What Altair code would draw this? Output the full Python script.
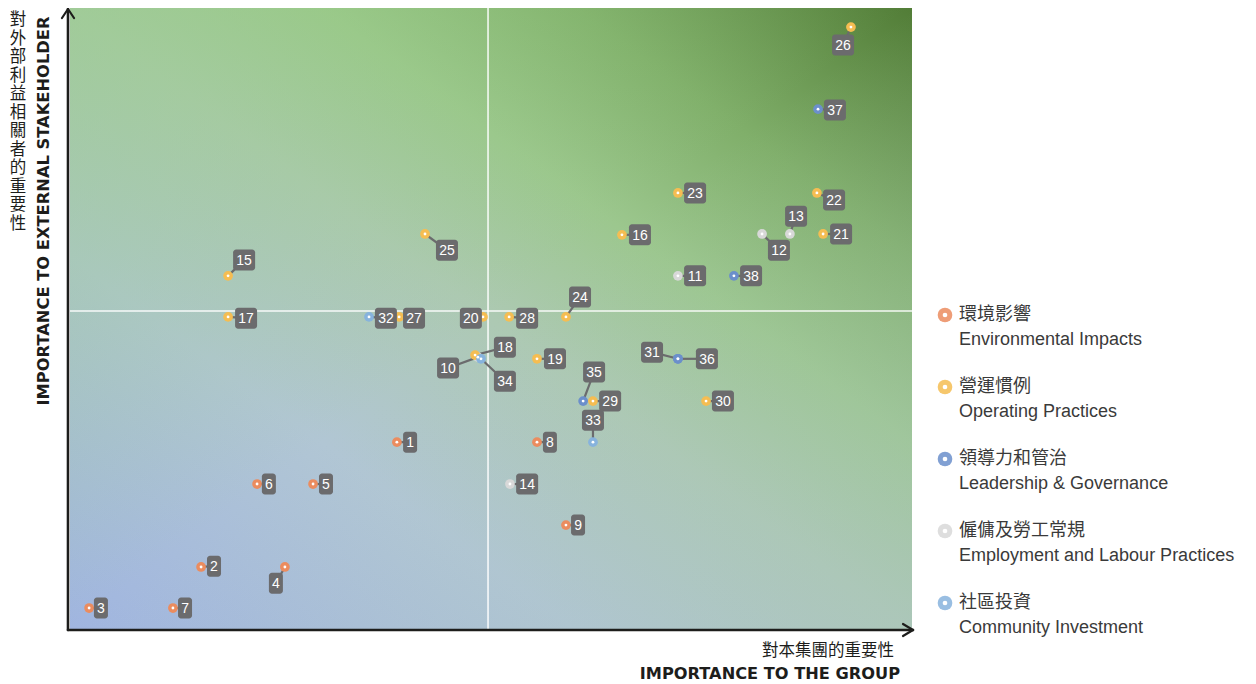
import altair as alt
import pandas as pd

# ---------------- data ----------------
ids = list(range(1, 39))
categories = (["env"] * 9 + ["emp"] * 5 + ["op"] * 16 +
              ["lead", "comm", "comm", "comm", "lead", "lead", "lead", "lead"])
x_vals = [11.69, 4.73, 0.75, 7.71, 8.71, 6.72, 3.73, 16.67, 17.70, 14.57,
          21.68, 24.67, 25.66, 15.71, 5.69, 19.69, 5.69, 14.47, 16.67, 14.75,
          26.84, 26.62, 21.68, 17.70, 12.69, 27.83, 11.77, 15.68, 18.66, 22.68,
          21.68, 10.70, 18.66, 14.68, 18.31, 21.68, 26.66, 23.67]
y_vals = [4.53, 1.52, 0.53, 1.52, 3.52, 3.52, 0.53, 4.53, 2.53, 6.58,
          8.54, 9.55, 9.55, 3.52, 8.54, 9.53, 7.55, 6.63, 6.54, 7.55,
          9.55, 10.54, 10.54, 7.55, 9.55, 14.54, 7.55, 7.55, 5.52, 5.52,
          6.54, 7.55, 4.53, 6.54, 5.52, 6.54, 12.56, 8.54]
label_x = [12.16, 5.19, 1.17, 7.39, 9.17, 7.14, 4.16, 17.13, 18.13, 13.51,
           22.29, 25.27, 25.88, 16.32, 6.26, 20.33, 6.33, 15.53, 17.31, 14.32,
           27.48, 27.23, 22.29, 18.20, 13.47, 27.55, 12.30, 16.32, 19.27, 23.28,
           20.76, 11.30, 18.66, 15.53, 18.70, 22.71, 27.26, 24.28]
label_y = [4.53, 1.54, 0.53, 1.13, 3.52, 3.52, 0.53, 4.53, 2.53, 6.32,
           8.54, 9.16, 9.98, 3.52, 8.92, 9.53, 7.52, 6.82, 6.54, 7.52,
           9.55, 10.37, 10.54, 8.03, 9.16, 14.11, 7.52, 7.52, 5.52, 5.52,
           6.70, 7.52, 5.06, 6.00, 6.22, 6.54, 12.54, 8.54]

cat_keys = ["env", "op", "lead", "emp", "comm"]
cat_zh = ["環境影響", "營運慣例", "領導力和管治", "僱傭及勞工常規", "社區投資"]
cat_en = ["Environmental Impacts", "Operating Practices", "Leadership & Governance",
          "Employment and Labour Practices", "Community Investment"]
cat_colors = ["#eb8c5f", "#f5bd52", "#6b8fcb", "#d8d8d8", "#87b3dd"]

X_MAX, Y_MAX = 30, 15
X_MID, Y_MID = 14.93, 7.69

# ---------------- layout ----------------
W, H = 844, 622
PXX = W / X_MAX
PXY = H / Y_MAX
BOX_GREY = "#6b6b6d"
NUM_FONT = "Liberation Sans"
CJK_FONT = "Noto Sans CJK TC"

df = pd.DataFrame({"id": ids, "cat": categories, "x": x_vals, "y": y_vals,
                   "lx": label_x, "ly": label_y})
df["label"] = df["id"].astype(str)
half_w = df["label"].str.len().map({1: 7.0, 2: 11.0}) / PXX
half_h = 10.5 / PXY
df["bx1"] = df["lx"] - half_w
df["bx2"] = df["lx"] + half_w
df["by1"] = df["ly"] - half_h
df["by2"] = df["ly"] + half_h

xs = alt.Scale(domain=[0, X_MAX], nice=False, zero=False)
ys = alt.Scale(domain=[0, Y_MAX], nice=False, zero=False)
cs = alt.Scale(domain=cat_keys, range=cat_colors)

one = pd.DataFrame({"k": [0]})

# background: diagonal gradient (bottom-left -> top-right) plus a cross tint
bg1 = alt.Chart(one).mark_rect(
    color=alt.Gradient(
        gradient="linear", x1=0, y1=1, x2=1, y2=0,
        stops=[alt.GradientStop(offset=0, color="#a0b5e0"),
               alt.GradientStop(offset=0.3, color="#b1c6d4"),
               alt.GradientStop(offset=0.5, color="#adc9b3"),
               alt.GradientStop(offset=0.65, color="#9cc78e"),
               alt.GradientStop(offset=0.8, color="#80af6a"),
               alt.GradientStop(offset=1, color="#527d37")])
).encode(x=alt.value(2), x2=alt.value(W), y=alt.value(0), y2=alt.value(H - 1))
bg2 = alt.Chart(one).mark_rect(
    color=alt.Gradient(
        gradient="linear", x1=0, y1=0, x2=1, y2=1,
        stops=[alt.GradientStop(offset=0, color="rgba(150,205,130,0.55)"),
               alt.GradientStop(offset=0.5, color="rgba(150,205,130,0)"),
               alt.GradientStop(offset=0.5, color="rgba(170,195,195,0)"),
               alt.GradientStop(offset=1, color="rgba(170,195,195,0.4)")])
).encode(x=alt.value(2), x2=alt.value(W), y=alt.value(0), y2=alt.value(H - 1))

# quadrant lines
quad = pd.DataFrame({"xm": [X_MID], "ym": [Y_MID]})
vline = alt.Chart(quad).mark_rule(color="white", strokeWidth=1.5, opacity=0.95).encode(
    x=alt.X("xm:Q", scale=xs, axis=None), y=alt.value(0), y2=alt.value(H))
hline = alt.Chart(quad).mark_rule(color="white", strokeWidth=1.5, opacity=0.9).encode(
    y=alt.Y("ym:Q", scale=ys, axis=None), x=alt.value(2), x2=alt.value(W + 3))

X = alt.X("x:Q", scale=xs, axis=None)
Y = alt.Y("y:Q", scale=ys, axis=None)
base = alt.Chart(df)
callout = base.mark_rule(color=BOX_GREY, strokeWidth=2.2).encode(
    x=X, y=Y, x2="lx:Q", y2="ly:Q")
markers = base.mark_circle(size=95, opacity=1).encode(
    x=X, y=Y, color=alt.Color("cat:N", scale=cs, legend=None))
dots = base.mark_circle(size=8, color="white", opacity=1).encode(x=X, y=Y)
boxes = base.mark_rect(color=BOX_GREY, cornerRadius=3).encode(
    x=alt.X("bx1:Q", scale=xs, axis=None), x2="bx2:Q",
    y=alt.Y("by1:Q", scale=ys, axis=None), y2="by2:Q")
nums = base.mark_text(color="white", fontSize=14, font=NUM_FONT, align="center",
                      baseline="middle", dy=1).encode(
    x=alt.X("lx:Q", scale=xs, axis=None), y=alt.Y("ly:Q", scale=ys, axis=None),
    text="label:N")

# axes with arrows
AX = "#1d1d1b"
def seg(x1, x2, y1, y2, w=2.2):
    return alt.Chart(one).mark_rule(color=AX, strokeWidth=w, strokeCap="round").encode(
        x=alt.value(x1), x2=alt.value(x2), y=alt.value(y1), y2=alt.value(y2))

axes_rules = [
    seg(0, 0, H, 1, 2.6),
    seg(-6, 0, 10, 1),
    seg(6, 0, 10, 1),
    seg(0, W + 1, H, H, 2.6),
    seg(W - 9, W + 1, H - 6, H),
    seg(W - 9, W + 1, H + 6, H),
]

# axis titles
y_title_zh = "對外部利益相關者的重要性"
y_title_en = "IMPORTANCE TO EXTERNAL STAKEHOLDER"
x_title_zh = "對本集團的重要性"
x_title_en = "IMPORTANCE TO THE GROUP"

ytz = alt.Chart(one).mark_text(
    lineBreak="\n", lineHeight=18.5, fontSize=16.5,
    font=CJK_FONT, color="#1d1d1b", align="center", baseline="top"
).encode(x=alt.value(-50), y=alt.value(4), text=alt.value("\n".join(list(y_title_zh))))
yte = alt.Chart(one).mark_text(
    angle=270, fontSize=16.3, font="DejaVu Sans", fontWeight="bold",
    color="#1d1d1b", align="center", baseline="middle"
).encode(x=alt.value(-24), y=alt.value(203), text=alt.value(y_title_en))
xtz = alt.Chart(one).mark_text(
    fontSize=16.5, font=CJK_FONT, color="#1d1d1b", align="right", baseline="middle"
).encode(x=alt.value(826), y=alt.value(643), text=alt.value(x_title_zh))
xte = alt.Chart(one).mark_text(
    fontSize=16.2, font="DejaVu Sans", fontWeight="bold", color="#1d1d1b",
    align="right", baseline="middle"
).encode(x=alt.value(832), y=alt.value(666), text=alt.value(x_title_en))

# legend (placed to the right of the plot, using the plot's own y scale)
LEG_TOP_PX, LEG_STEP_PX = 307, 72
leg_df = pd.DataFrame({"cat": cat_keys, "zh": cat_zh, "en": cat_en})
leg_df["ypos"] = [(H - (LEG_TOP_PX + i * LEG_STEP_PX)) / PXY for i in range(5)]
LY = alt.Y("ypos:Q", scale=ys, axis=None)
lb = alt.Chart(leg_df)
leg_pt = lb.mark_circle(size=215, opacity=0.85).encode(
    x=alt.value(877), y=LY, color=alt.Color("cat:N", scale=cs, legend=None))
leg_dot = lb.mark_circle(size=22, color="white", opacity=1).encode(x=alt.value(877), y=LY)
leg_zh = lb.mark_text(align="left", baseline="middle", fontSize=18, font=CJK_FONT,
                      color="#3a3a3a").encode(x=alt.value(891), y=LY, text="zh:N")
leg_en = lb.mark_text(align="left", baseline="middle", fontSize=18, font="Liberation Sans",
                      color="#3a3a3a", dy=25).encode(x=alt.value(891), y=LY, text="en:N")

chart = alt.layer(
    bg1, bg2, vline, hline, callout, markers, dots, boxes, nums,
    *axes_rules, ytz, yte, xtz, xte, leg_pt, leg_dot, leg_zh, leg_en
).properties(
    width=W, height=H,
    autosize=alt.AutoSizeParams(type="none"),
    padding={"left": 60, "top": 0, "right": 336, "bottom": 54},
).configure_view(stroke=None)

chart.save("out.html", embed_options={"renderer": "svg", "actions": False})
